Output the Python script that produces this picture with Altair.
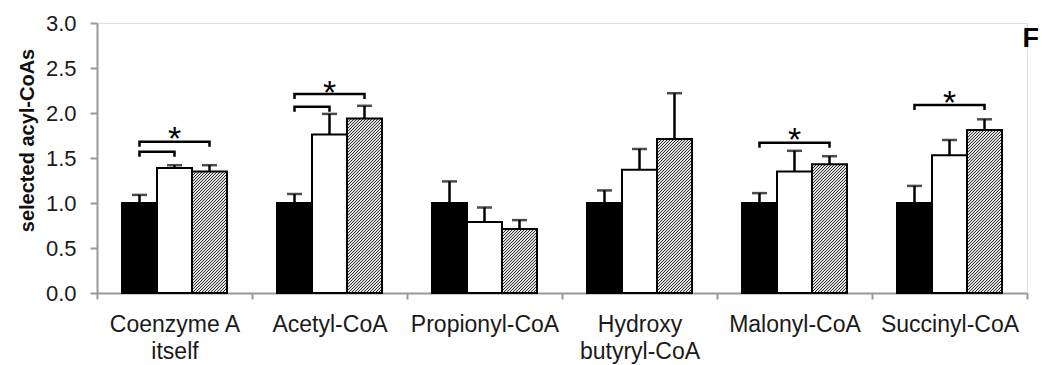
import math
import altair as alt
import pandas as pd

# ---------------- data ----------------
categories = ["Coenzyme A\nitself", "Acetyl-CoA", "Propionyl-CoA",
              "Hydroxy\nbutyryl-CoA", "Malonyl-CoA", "Succinyl-CoA"]
series = ["S1", "S2", "S3"]           # black, white, hatched

s1_values = [1.00, 1.00, 1.00, 1.00, 1.00, 1.00]
s1_errors = [0.09, 0.10, 0.24, 0.14, 0.11, 0.19]
s2_values = [1.39, 1.76, 0.79, 1.37, 1.35, 1.53]
s2_errors = [0.03, 0.23, 0.16, 0.23, 0.23, 0.17]
s3_values = [1.35, 1.94, 0.71, 1.71, 1.43, 1.81]
s3_errors = [0.07, 0.14, 0.10, 0.51, 0.09, 0.12]

# significance brackets: (category index, from series, to series, level)
bracket_cat = [0, 0, 1, 1, 4, 5]
bracket_from = ["S1", "S1", "S1", "S1", "S1", "S1"]
bracket_to = ["S2", "S3", "S2", "S3", "S3", "S3"]
bracket_level = [1.57, 1.68, 2.07, 2.21, 1.67, 2.09]
# asterisks: (category index, height)
star_cat = [0, 1, 4, 5]
star_level = [1.80, 2.31, 1.79, 2.20]

y_ticks = [0.0, 0.5, 1.0, 1.5, 2.0, 2.5, 3.0]
y_title = "selected acyl-CoAs"
panel_label = "F"

# ---------------- layout ----------------
W, H = 930, 270
PAD = {"left": 97, "right": 15, "top": 23, "bottom": 72}
FONT = "Liberation Sans"
YMAX = 3.0
n_cat = len(categories)
band = W / n_cat
bar_w = 35.0
off_pad = (band / bar_w - len(series)) / 2.0
px_per_unit = H / YMAX

# hatch style
PERIOD = 3.0          # px, horizontal period of the '////' stripes
SEG_PX = 18.0         # px, hatch is painted in slices (multiple of PERIOD)
DARK, LIGHT = "#2e2e2e", "#e2e2e2"

# ---------------- tables ----------------
rows = []
for i, c in enumerate(categories):
    for s, vals, errs in (("S1", s1_values, s1_errors),
                          ("S2", s2_values, s2_errors),
                          ("S3", s3_values, s3_errors)):
        rows.append({"cat": c, "series": s, "value": vals[i],
                     "top": vals[i] + errs[i]})
df = pd.DataFrame(rows)

drop = 5.0 / px_per_unit
br_rows = []
for k in range(len(bracket_cat)):
    c = categories[bracket_cat[k]]
    lv = bracket_level[k]
    pts = [(bracket_from[k], lv - drop), (bracket_from[k], lv),
           (bracket_to[k], lv), (bracket_to[k], lv - drop)]
    for o, (s, yv) in enumerate(pts):
        br_rows.append({"cat": c, "series": s, "yv": yv, "id": k, "ord": o})
df_br = pd.DataFrame(br_rows)

df_star = pd.DataFrame({"cat": [categories[i] for i in star_cat],
                        "series": ["S2"] * len(star_cat),
                        "yv": star_level})

# ---------------- shared encodings ----------------
xscale = alt.Scale(domain=categories, paddingInner=0, paddingOuter=0)
offscale = alt.Scale(domain=series, paddingInner=0, paddingOuter=off_pad)
yscale = alt.Scale(domain=[0, YMAX], nice=False, zero=True)

xaxis = alt.Axis(title=None, labelExpr="split(datum.label, '\\n')",
                 labelFont=FONT, labelFontSize=23, labelColor="#1a1a1a",
                 labelLineHeight=27, labelPadding=14, labelAngle=0,
                 tickBand="extent", tickSize=6, tickColor="#999999",
                 tickWidth=2, domainColor="#999999", domainWidth=2,
                 grid=False)
yaxis = alt.Axis(title=y_title, values=y_ticks, format=".1f",
                 labelFont=FONT, labelFontSize=22, labelColor="#1a1a1a",
                 labelPadding=14, tickSize=7, tickColor="#999999",
                 tickWidth=2, domainColor="#999999", domainWidth=2,
                 grid=False, titleFont=FONT, titleFontSize=20,
                 titleFontWeight="bold", titleColor="#111111",
                 titleAngle=270, titleX=-64, titleY=117,
                 titleBaseline="alphabetic", titleAlign="center")


def X():
    return alt.X("cat:N", scale=xscale, axis=xaxis, sort=categories)


def XO():
    return alt.XOffset("series:N", scale=offscale, sort=series)


def Y(field):
    return alt.Y(field, scale=yscale, axis=yaxis, title=y_title)


def stripes(h_px, top_px):
    """'////' stripes for a w x h box as a hard-stop linear gradient.

    The stripe edges are shifted a quarter pixel away from the pixel
    sample positions so that no edge falls exactly on a pixel centre."""
    w = bar_w
    h = h_px
    n = math.ceil((w + h) / PERIOD) + 1
    L = n * PERIOD
    k = L * h / (w * w + h * h)
    f = (-top_px) % 1.0
    phase = (f + 0.25) % PERIOD
    half = PERIOD / 2.0
    stops = []
    s = phase - PERIOD
    dark = True
    while s < L:
        a, b = max(s, 0.0), min(s + half, L)
        if b > 0:
            col = DARK if dark else LIGHT
            stops += [alt.GradientStop(color=col, offset=a / L),
                      alt.GradientStop(color=col, offset=b / L)]
        s += half
        dark = not dark
    return alt.LinearGradient(gradient="linear", stops=stops,
                              x1=0, y1=0, x2=k * w / h, y2=k)


base = alt.Chart(df)

bars12 = base.transform_filter(alt.datum.series != "S3").mark_bar(
    stroke="black", strokeWidth=2).encode(
    x=X(), xOffset=XO(), y=Y("value:Q"),
    fill=alt.Fill("series:N", scale=alt.Scale(domain=["S1", "S2"],
                                               range=["black", "white"]),
                  legend=None))

# hatched bars: painted top-down in slices so that every gradient stays short
seg_layers = []
seg_u = SEG_PX / px_per_unit
ovl_u = 1.0 / px_per_unit
for i, c in enumerate(categories):
    v = s3_values[i]
    j = 0
    while v - j * seg_u > 1e-9:
        y_top = v - j * seg_u
        y_bot = max(0.0, y_top - seg_u - ovl_u)
        h_px = (y_top - y_bot) * px_per_unit
        top_px = PAD["top"] + H - y_top * px_per_unit
        seg_df = pd.DataFrame({"cat": [c], "series": ["S3"],
                               "y0": [y_top], "y1": [y_bot]})
        seg_layers.append(
            alt.Chart(seg_df).mark_bar(fill=stripes(h_px, top_px),
                                       strokeWidth=0)
            .encode(x=X(), xOffset=XO(), y=Y("y0:Q"), y2="y1:Q"))
        j += 1

outline3 = base.transform_filter(alt.datum.series == "S3").mark_bar(
    fill="transparent", stroke="black", strokeWidth=2).encode(
    x=X(), xOffset=XO(), y=Y("value:Q"))

err = base.mark_rule(color="black", strokeWidth=2.5).encode(
    x=X(), xOffset=XO(), y=Y("value:Q"), y2="top:Q")
caps = base.mark_tick(color="black", thickness=2.5, size=15).encode(
    x=X(), xOffset=XO(), y=Y("top:Q"))

brackets = alt.Chart(df_br).mark_line(color="black", strokeWidth=2.5).encode(
    x=X(), xOffset=XO(), y=Y("yv:Q"), detail="id:N", order="ord:Q")

stars = alt.Chart(df_star).mark_text(
    text="*", font=FONT, fontSize=34, color="black", dy=9).encode(
    x=X(), xOffset=XO(), y=Y("yv:Q"))

chart = alt.layer(bars12, *seg_layers, outline3, err, caps, brackets,
                  stars).properties(
    width=W, height=H,
    autosize=alt.AutoSizeParams(type="none"),
    padding=PAD,
    title=alt.TitleParams(panel_label, anchor="end", font=FONT,
                          fontSize=27, fontWeight="bold", color="black",
                          orient="top", offset=0, baseline="alphabetic",
                          dx=11, dy=62),
).configure_view(stroke=None).configure(background="white")

chart.save("out.html", embed_options={"renderer": "svg", "actions": False})
